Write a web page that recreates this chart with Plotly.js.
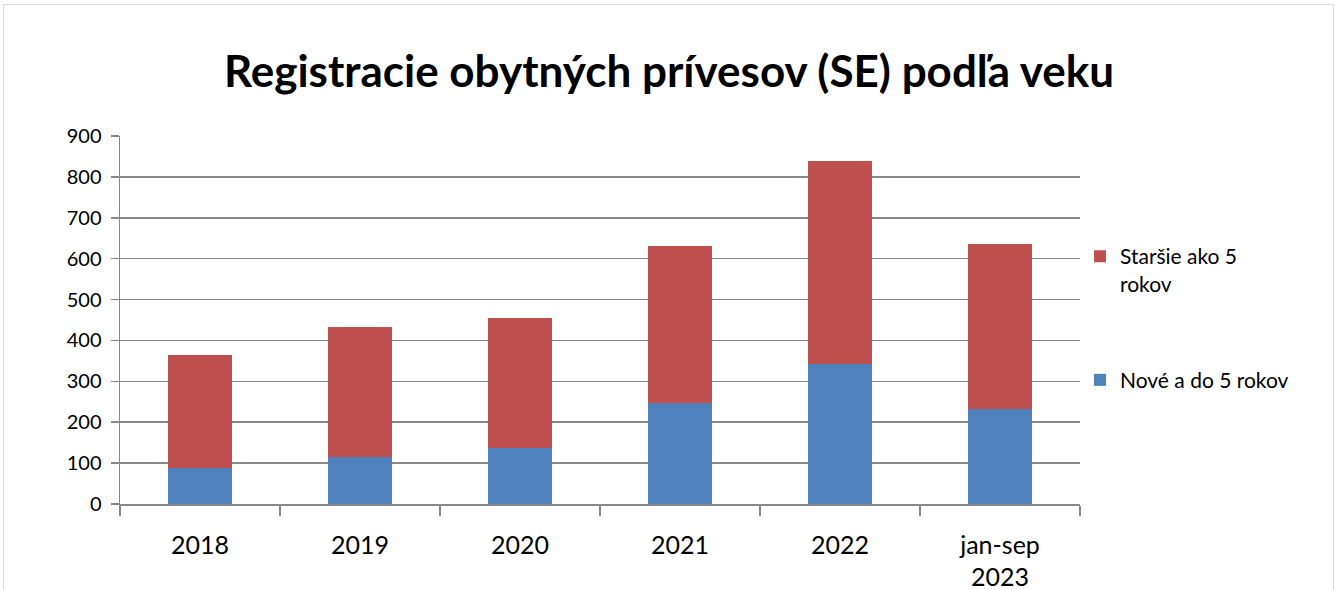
<!DOCTYPE html>
<html><head><meta charset="utf-8">
<script src="https://cdn.plot.ly/plotly-3.0.1.min.js"></script>
<style>
html,body{margin:0;padding:0;background:#fff;}
#frame{position:absolute;left:3px;top:4px;width:1331px;height:600px;border:1px solid #d9d9d9;box-sizing:border-box;}
#chart{position:absolute;left:0;top:0;width:1338px;height:590px;}
</style>
</head><body>
<div id="frame"></div>
<div id="chart"></div>
<script>
var categories = ["2018", "2019", "2020", "2021", "2022", "jan-sep<br>2023"];
var newUpTo5 = [87, 115, 138, 246, 343, 232];
var olderThan5 = [278, 317, 318, 386, 497, 405];
var seriesNames = ["Nové a do 5 rokov", "Staršie ako 5<br>rokov"];
var colors = ["#4f81bd", "#c0504d"];

var traces = [
  {type:'bar', x:categories, y:newUpTo5, name:seriesNames[0], legendgroup:'a', legendrank:2,
   marker:{color:colors[0]}, width:0.4},
  {type:'bar', x:categories, y:olderThan5, name:seriesNames[1], legendgroup:'b', legendrank:1,
   marker:{color:colors[1]}, width:0.4}
];
var font = "Lato, 'Open Sans', sans-serif";
var layout = {
  width:1338, height:590,
  paper_bgcolor:'rgba(0,0,0,0)', plot_bgcolor:'rgba(0,0,0,0)',
  margin:{l:120, r:258, t:136, b:86},
  barmode:'stack',
  font:{family:font, color:'#000'},
  title:{text:'<b>Registracie obytných prívesov (SE) podľa veku</b>', x:0.5, xanchor:'center', y:0.878, yanchor:'middle',
         font:{family:font, size:44, color:'#000'}},
  xaxis:{type:'category', showline:true, linecolor:'#888', linewidth:1.5,
         ticks:'outside', tickson:'boundaries', ticklen:10, tickcolor:'#888', tickwidth:1.5,
         ticklabelstandoff:18,
         tickfont:{size:25, family:font}, showgrid:false},
  yaxis:{range:[0,900], dtick:100, showline:true, linecolor:'#888', linewidth:1.5,
         ticks:'outside', ticklen:8, tickcolor:'#888', tickwidth:1.5, ticklabelstandoff:5,
         gridcolor:'#888', gridwidth:1.5, zeroline:false,
         tickfont:{size:20, family:font}},
  legend:{x:1.0, xanchor:'left', y:0.728, yanchor:'top', traceorder:'grouped', tracegroupgap:66,
          font:{size:21, family:font}, itemwidth:30, valign:'top'},
  showlegend:true
};
Plotly.newPlot('chart', traces, layout, {displayModeBar:false, staticPlot:true});
</script>
</body></html>
